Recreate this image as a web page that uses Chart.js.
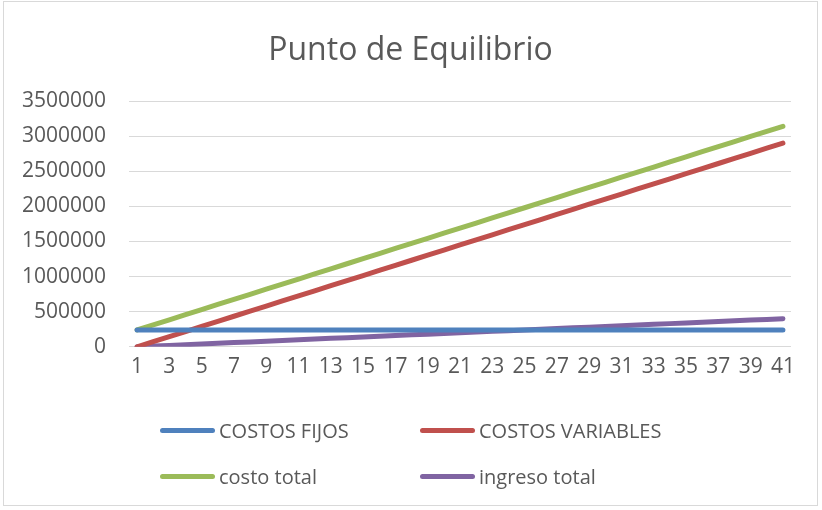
<!DOCTYPE html>
<html>
<head>
<meta charset="utf-8">
<script src="https://cdn.jsdelivr.net/npm/chart.js@4.4.0/dist/chart.umd.min.js"></script>
<style>
    body { margin: 0; background: #fff; }
    #wrap { position: relative; width: 822px; height: 510px; font-family: "Open Sans", sans-serif; }
    #frame { position: absolute; left: 3px; top: 1px; width: 813px; height: 503px; border: 1px solid #d9d9d9; }
    canvas { position: absolute; left: 0; top: 0; }
    #title { position: absolute; left: 3px; width: 815px; top: 29px; text-align: center; color: #595959; font-size: 32px; line-height: 38px; }
    .legend-item { position: absolute; height: 30px; display: flex; align-items: center; color: #595959; font-size: 20px; }
    .legend-line { width: 55px; height: 5px; border-radius: 3px; margin-right: 4px; }
</style>
</head>
<body>
<div id="wrap">
    <div id="frame"></div>
    <canvas id="peChart" width="822" height="510"></canvas>
    <div id="title">Punto de Equilibrio</div>
    <div id="legend"></div>
</div>
<script>
const units = [1, 2, 3, 4, 5, 6, 7, 8, 9, 10, 11, 12, 13, 14, 15, 16, 17, 18, 19, 20,
    21, 22, 23, 24, 25, 26, 27, 28, 29, 30, 31, 32, 33, 34, 35, 36, 37, 38, 39, 40, 41];

const costosFijos = [240000, 240000, 240000, 240000, 240000, 240000, 240000, 240000, 240000, 240000,
    240000, 240000, 240000, 240000, 240000, 240000, 240000, 240000, 240000, 240000,
    240000, 240000, 240000, 240000, 240000, 240000, 240000, 240000, 240000, 240000,
    240000, 240000, 240000, 240000, 240000, 240000, 240000, 240000, 240000, 240000, 240000];

const costosVariables = [0, 72500, 145000, 217500, 290000, 362500, 435000, 507500, 580000, 652500,
    725000, 797500, 870000, 942500, 1015000, 1087500, 1160000, 1232500, 1305000, 1377500,
    1450000, 1522500, 1595000, 1667500, 1740000, 1812500, 1885000, 1957500, 2030000, 2102500,
    2175000, 2247500, 2320000, 2392500, 2465000, 2537500, 2610000, 2682500, 2755000, 2827500, 2900000];

const costoTotal = [240000, 312500, 385000, 457500, 530000, 602500, 675000, 747500, 820000, 892500,
    965000, 1037500, 1110000, 1182500, 1255000, 1327500, 1400000, 1472500, 1545000, 1617500,
    1690000, 1762500, 1835000, 1907500, 1980000, 2052500, 2125000, 2197500, 2270000, 2342500,
    2415000, 2487500, 2560000, 2632500, 2705000, 2777500, 2850000, 2922500, 2995000, 3067500, 3140000];

const ingresoTotal = [0, 10000, 20000, 30000, 40000, 50000, 60000, 70000, 80000, 90000,
    100000, 110000, 120000, 130000, 140000, 150000, 160000, 170000, 180000, 190000,
    200000, 210000, 220000, 230000, 240000, 250000, 260000, 270000, 280000, 290000,
    300000, 310000, 320000, 330000, 340000, 350000, 360000, 370000, 380000, 390000, 400000];

const seriesNames = ['COSTOS FIJOS', 'COSTOS VARIABLES', 'costo total', 'ingreso total'];
const seriesColors = ['#4f81bd', '#c0504d', '#9bbb59', '#8064a2'];

const textColor = '#595959';
const fontFamily = '"Open Sans", sans-serif';

function makeDataset(i, values) {
    return {
        label: seriesNames[i],
        data: values,
        borderColor: seriesColors[i],
        backgroundColor: seriesColors[i],
        borderWidth: 5,
        borderCapStyle: 'round',
        borderJoinStyle: 'round',
        pointRadius: 0,
        tension: 0,
        fill: false
    };
}

const ctx = document.getElementById('peChart').getContext('2d');
new Chart(ctx, {
    type: 'line',
    data: {
        labels: units,
        datasets: [
            makeDataset(0, costosFijos),
            makeDataset(1, costosVariables),
            makeDataset(2, costoTotal),
            makeDataset(3, ingresoTotal)
        ]
    },
    options: {
        responsive: false,
        animation: false,
        // title and legend are html around the canvas, so leave room for them
        layout: { padding: { left: 0, right: 31, top: 101, bottom: 122 } },
        plugins: {
            legend: { display: false },
            tooltip: { enabled: false }
        },
        scales: {
            x: {
                offset: true,
                grid: { display: false, drawTicks: false },
                border: { display: false },
                ticks: {
                    color: textColor,
                    font: { family: fontFamily, size: 21 },
                    padding: 8,
                    autoSkip: false,
                    maxRotation: 0,
                    callback: function(value, index) {
                        return index % 2 === 0 ? this.getLabelForValue(value) : '';
                    }
                }
            },
            y: {
                min: 0,
                max: 3500000,
                afterFit: function(scale) { scale.width = 129; },
                grid: { color: '#d9d9d9', lineWidth: 1, drawTicks: false },
                border: { display: false },
                ticks: {
                    stepSize: 500000,
                    color: textColor,
                    font: { family: fontFamily, size: 21 },
                    padding: 23,
                    callback: function(value) { return String(value); }
                }
            }
        }
    }
});

// legend laid out as a 2x2 grid like the original
const legendPos = [[160, 415], [420, 415], [160, 461], [420, 461]];
const legend = document.getElementById('legend');
seriesNames.forEach((name, i) => {
    const item = document.createElement('div');
    item.className = 'legend-item';
    item.style.left = legendPos[i][0] + 'px';
    item.style.top = legendPos[i][1] + 'px';
    const line = document.createElement('span');
    line.className = 'legend-line';
    line.style.background = seriesColors[i];
    const label = document.createElement('span');
    label.textContent = name;
    item.appendChild(line);
    item.appendChild(label);
    legend.appendChild(item);
});
</script>
</body>
</html>
